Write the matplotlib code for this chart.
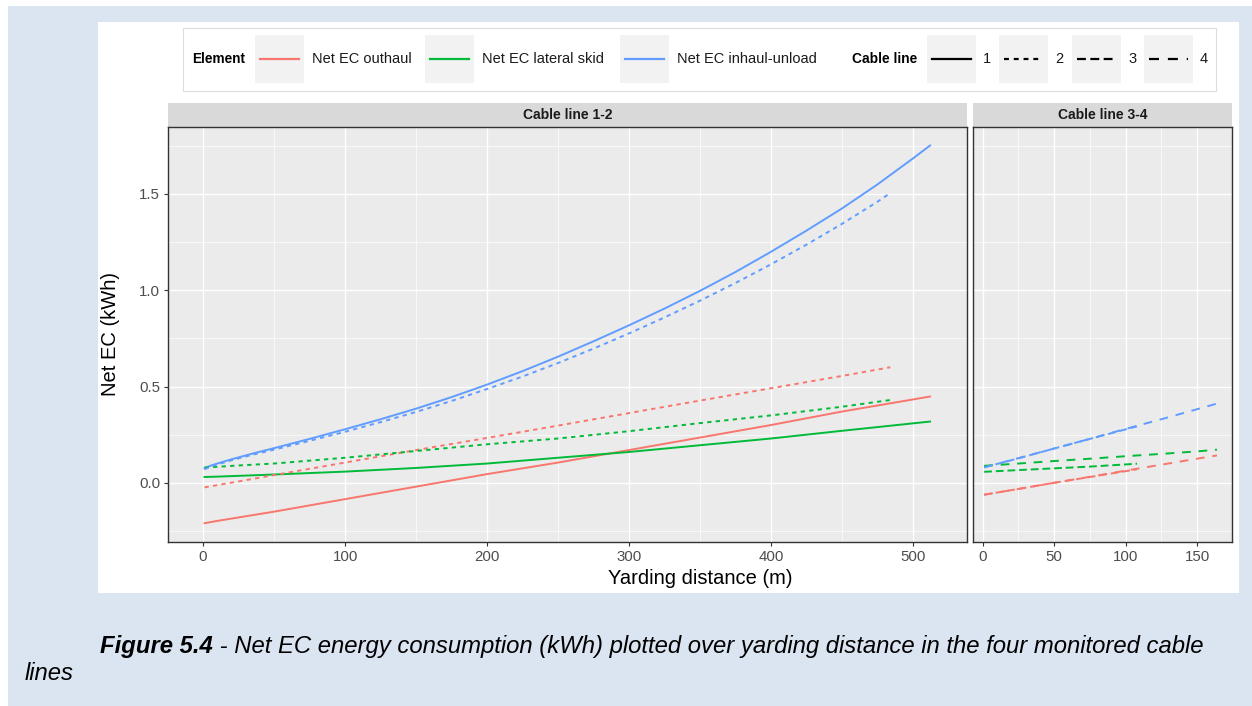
import matplotlib

matplotlib.use("Agg")
import matplotlib.pyplot as plt  # noqa: E402
from matplotlib.lines import Line2D  # noqa: E402
from matplotlib.patches import Rectangle  # noqa: E402

plt.rcParams["font.family"] = ["Liberation Sans", "DejaVu Sans"]

W, H = 1252, 706

# ---- data ----
# Cable line 1 (solid)
x_cl1 = [1, 10, 25, 50, 100, 150, 200, 250, 300, 350, 400, 450, 512]
outhaul_cl1 = [-0.21, -0.198, -0.18, -0.15, -0.085, -0.02, 0.045, 0.105, 0.17, 0.235, 0.30, 0.37, 0.448]
lateral_cl1 = [0.03, 0.032, 0.036, 0.043, 0.058, 0.077, 0.10, 0.13, 0.16, 0.195, 0.23, 0.27, 0.318]
x_cl1_inhaul = [1, 5, 10, 20, 35, 50, 75, 100, 125, 150, 175, 200, 225, 250, 275,
                300, 325, 350, 375, 400, 425, 450, 475, 500, 512]
inhaul_cl1 = [0.075, 0.088, 0.10, 0.122, 0.152, 0.18, 0.228, 0.278, 0.33, 0.385, 0.445,
              0.51, 0.58, 0.655, 0.735, 0.818, 0.905, 0.997, 1.095, 1.20, 1.31, 1.425,
              1.55, 1.685, 1.752]

# Cable line 2 (short dashes)
x_cl2 = [1, 10, 25, 50, 100, 150, 200, 250, 300, 350, 400, 450, 484]
outhaul_cl2 = [-0.024, -0.012, 0.007, 0.04, 0.105, 0.17, 0.233, 0.297, 0.362, 0.427, 0.491, 0.555, 0.60]
lateral_cl2 = [0.08, 0.083, 0.09, 0.10, 0.13, 0.165, 0.20, 0.23, 0.268, 0.31, 0.35, 0.395, 0.43]
x_cl2_inhaul = [1, 5, 10, 20, 35, 50, 75, 100, 125, 150, 175, 200, 225, 250, 275,
                300, 325, 350, 375, 400, 425, 450, 475, 484]
inhaul_cl2 = [0.07, 0.083, 0.095, 0.117, 0.146, 0.172, 0.218, 0.265, 0.315, 0.368, 0.425,
              0.487, 0.552, 0.622, 0.697, 0.776, 0.859, 0.946, 1.038, 1.135, 1.237, 1.345,
              1.46, 1.505]

# Cable line 3 (dashes)
x_cl3 = [1, 25, 50, 75, 108]
outhaul_cl3 = [-0.062, -0.032, 0.0, 0.03, 0.07]
lateral_cl3 = [0.057, 0.066, 0.075, 0.084, 0.099]
inhaul_cl3 = [0.08, 0.127, 0.178, 0.228, 0.293]

# Cable line 4 (long dashes)
x_cl4 = [1, 25, 50, 75, 100, 125, 150, 164]
outhaul_cl4 = [-0.062, -0.032, 0.0, 0.031, 0.063, 0.094, 0.125, 0.142]
lateral_cl4 = [0.088, 0.1, 0.113, 0.125, 0.138, 0.15, 0.163, 0.172]
x_cl4_inhaul = [1, 25, 50, 75, 100, 125, 150, 168]
inhaul_cl4 = [0.08, 0.128, 0.178, 0.228, 0.28, 0.33, 0.382, 0.42]

element_labels = ["Net EC outhaul", "Net EC lateral skid", "Net EC inhaul-unload"]
cable_labels = ["1", "2", "3", "4"]
facet_titles = ["Cable line 1-2", "Cable line 3-4"]

COLORS = ["#F8766D", "#00BA38", "#619CFF"]
DASHES = ["-", (0, (2.2, 2.2)), (0, (4, 2)), (0, (4.5, 4))]
LW = 1.4

# (x, y, element index, cable line index)
left_series = [
    (x_cl1, outhaul_cl1, 0, 0), (x_cl1, lateral_cl1, 1, 0), (x_cl1_inhaul, inhaul_cl1, 2, 0),
    (x_cl2, outhaul_cl2, 0, 1), (x_cl2, lateral_cl2, 1, 1), (x_cl2_inhaul, inhaul_cl2, 2, 1),
]
right_series = [
    (x_cl3, outhaul_cl3, 0, 2), (x_cl3, lateral_cl3, 1, 2), (x_cl3, inhaul_cl3, 2, 2),
    (x_cl4, outhaul_cl4, 0, 3), (x_cl4, lateral_cl4, 1, 3), (x_cl4_inhaul, inhaul_cl4, 2, 3),
]


def fx(px):
    return px / W


def fy(py):
    return 1 - py / H


fig = plt.figure(figsize=(W / 100, H / 100), dpi=100)
fig.patch.set_facecolor("white")
fig.add_artist(Rectangle((fx(8), 0), 1 - fx(8), fy(6), transform=fig.transFigure,
                         fc="#dbe5f1", ec="none", zorder=-10))
fig.add_artist(Rectangle((fx(98), fy(593)), fx(1239) - fx(98), fy(22) - fy(593),
                         transform=fig.transFigure, fc="white", ec="none", zorder=-9))

top, bottom = 127, 541.5
ax_l = fig.add_axes([fx(168.3), fy(bottom), fx(966.7) - fx(168.3), (bottom - top) / H])
ax_r = fig.add_axes([fx(973.3), fy(bottom), fx(1232) - fx(973.3), (bottom - top) / H])

ylim = (-0.305, 1.848)
for ax, xlim, major, minor in [
    (ax_l, (-24.5, 537.8), [0, 100, 200, 300, 400, 500], [50, 150, 250, 350, 450]),
    (ax_r, (-6.6, 174.5), [0, 50, 100, 150], [25, 75, 125]),
]:
    ax.set_facecolor("#ebebeb")
    ax.set_xlim(*xlim)
    ax.set_ylim(*ylim)
    ax.set_xticks(major)
    ax.set_xticks(minor, minor=True)
    ax.set_yticks([0, 0.5, 1.0, 1.5])
    ax.set_yticks([-0.25, 0.25, 0.75, 1.25, 1.75], minor=True)
    ax.grid(which="major", color="white", linewidth=1.0)
    ax.grid(which="minor", color="white", linewidth=0.5)
    ax.set_axisbelow(True)
    for s in ax.spines.values():
        s.set_color("#333333")
        s.set_linewidth(1.0)
    ax.tick_params(which="major", length=2.8, width=0.8, color="#333333",
                   labelsize=10.8, labelcolor="#4d4d4d", pad=3)
    ax.tick_params(which="minor", length=0)

ax_l.set_yticklabels(["0.0", "0.5", "1.0", "1.5"])
ax_r.tick_params(axis="y", which="both", left=False, labelleft=False)

for ax, series in [(ax_l, left_series), (ax_r, right_series)]:
    for x, y, el, cl in series:
        ax.plot(x, y, color=COLORS[el], lw=LW, linestyle=DASHES[cl], dash_capstyle="butt")

# facet strips
strip_h = 24 / (bottom - top)
for ax, title in zip([ax_l, ax_r], facet_titles):
    ax.add_patch(Rectangle((0, 1), 1, strip_h, transform=ax.transAxes, clip_on=False,
                           fc="#d9d9d9", ec="none"))
    ax.text(0.5, 1 + strip_h / 2, title, transform=ax.transAxes, ha="center", va="center",
            fontsize=10, fontweight="bold", color="#1a1a1a")

fig.text(fx(700), fy(578), "Yarding distance (m)", ha="center", va="center", fontsize=14.5)
fig.text(fx(110), fy(334), "Net EC (kWh)", ha="center", va="center", rotation=90, fontsize=14.5)

# legend box
fig.add_artist(Rectangle((fx(183), fy(91)), fx(1216) - fx(183), fy(28) - fy(91),
                         transform=fig.transFigure, fc="white", ec="#dddddd", lw=0.8))
ly = fy(59)
fig.text(fx(192), ly, "Element", ha="left", va="center", fontsize=9.8, fontweight="bold")
for kx, lab, c in zip([255, 425, 620], element_labels, COLORS):
    fig.add_artist(Rectangle((fx(kx), fy(83)), fx(49), fy(35) - fy(83),
                             transform=fig.transFigure, fc="#f2f2f2", ec="none"))
    fig.add_artist(Line2D([fx(kx + 5), fx(kx + 44)], [ly, ly], transform=fig.transFigure,
                          color=c, lw=1.6))
    fig.text(fx(kx + 57), ly, lab, ha="left", va="center", fontsize=10.5, color="#1a1a1a")

fig.text(fx(852), ly, "Cable line", ha="left", va="center", fontsize=9.9, fontweight="bold")
for kx, lab, ls in zip([927, 999, 1072, 1144], cable_labels, DASHES):
    fig.add_artist(Rectangle((fx(kx), fy(83)), fx(49), fy(35) - fy(83),
                             transform=fig.transFigure, fc="#f2f2f2", ec="none"))
    fig.add_artist(Line2D([fx(kx + 5), fx(kx + 44)], [ly, ly], transform=fig.transFigure,
                          color="black", lw=1.6, linestyle=ls, dash_capstyle="butt"))
    fig.text(fx(kx + 56), ly, lab, ha="left", va="center", fontsize=10.5, color="#1a1a1a")

# caption
cap_y = fy(646)
cap_size = 17.2
t1 = fig.text(fx(100), cap_y, "Figure 5.4", ha="left", va="center", fontsize=cap_size,
              fontweight="bold", fontstyle="italic")
fig.canvas.draw()
bb = t1.get_window_extent()
fig.text(bb.x1 / W, cap_y,
         " - Net EC energy consumption (kWh) plotted over yarding distance in the four monitored cable",
         ha="left", va="center", fontsize=cap_size, fontstyle="italic")
fig.text(fx(25), fy(674), "lines", ha="left", va="center", fontsize=cap_size, fontstyle="italic")

fig.savefig("out.png", dpi=100)
